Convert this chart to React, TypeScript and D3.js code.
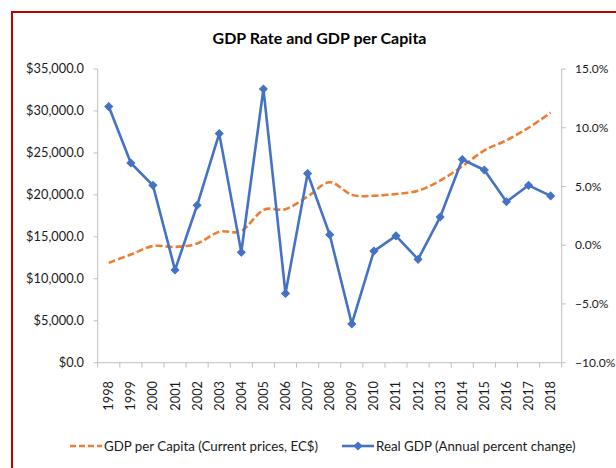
import React from "react";
import * as d3 from "d3";

const years = ["1998","1999","2000","2001","2002","2003","2004","2005","2006","2007","2008","2009","2010","2011","2012","2013","2014","2015","2016","2017","2018"];
const gdpPerCapita = [11900,12900,13900,13800,14200,15600,15700,18200,18300,19800,21500,20000,19900,20100,20500,21700,23400,25300,26500,28000,29800];
const realGdp = [11.8,7.0,5.1,-2.1,3.4,9.5,-0.6,13.3,-4.1,6.1,0.9,-6.7,-0.5,0.8,-1.2,2.4,7.3,6.4,3.7,5.1,4.2];
const leftTicks = [0,5000,10000,15000,20000,25000,30000,35000];
const rightTicks = [-10,-5,0,5,10,15];
const title = "GDP Rate and GDP per Capita";
const seriesNames = ["GDP per Capita (Current prices, EC$)", "Real GDP (Annual percent change)"];

const W = 616, H = 468;
const FONT = "Lato, 'Open Sans', sans-serif";
const ORANGE = "#ED7D31";
const BLUE = "#4472C4";
const AXIS = "#BFBFBF";
const TXT = "#1a1a1a";

export default function App() {
  const left = 97.7, right = 561.7, top = 69, bottom = 362.7;
  const x = d3.scaleBand<string>().domain(years).range([left, right]).padding(0);
  const cx = (y: string) => (x(y) as number) + x.bandwidth() / 2;
  const yL = d3.scaleLinear().domain([0, 35000]).range([bottom, top]);
  const yR = d3.scaleLinear().domain([-10, 15]).range([bottom, top]);

  const orangeLine = d3.line<number>()
    .x((_, i) => cx(years[i]))
    .y((d) => yL(d))
    .curve(d3.curveCatmullRom.alpha(0))(gdpPerCapita) || "";
  const blueLine = d3.line<number>()
    .x((_, i) => cx(years[i]))
    .y((d) => yR(d))(realGdp) || "";
  const diamond = d3.symbol().type(d3.symbolSquare).size(30)() || "";
  const fmtL = (v: number) => "$" + d3.format(",.1f")(v);
  const fmtR = (v: number) => d3.format(".1f")(v) + "%";
  const boundaries = d3.range(years.length + 1).map((i) => left + i * x.bandwidth());

  return (
    <svg width={W} height={H} style={{ position: "absolute", left: 0, top: 0, background: "#fff" }} fontFamily={FONT}>
      <rect x={0} y={0} width={W} height={H} fill="#fff" />
      <rect x={12} y={12} width={W + 50} height={H + 50} fill="none" stroke="#C00000" strokeWidth={2} />
      <text x={319.5} y={44} textAnchor="middle" fontSize={16} fontWeight="bold" fill="#000">{title}</text>

      {/* axes */}
      <line x1={left} x2={left} y1={top} y2={bottom} stroke={AXIS} strokeWidth={1} />
      <line x1={right} x2={right} y1={top} y2={bottom} stroke={AXIS} strokeWidth={1} />
      <line x1={left} x2={right} y1={bottom} y2={bottom} stroke={AXIS} strokeWidth={1} />
      {leftTicks.map((t) => (
        <g key={"l" + t}>
          <line x1={left - 4} x2={left} y1={yL(t)} y2={yL(t)} stroke={AXIS} />
          <text x={84} y={yL(t)} dy="0.35em" textAnchor="end" fontSize={12.8} fill={TXT}>{fmtL(t)}</text>
        </g>
      ))}
      {rightTicks.map((t) => (
        <g key={"r" + t}>
          <line x1={right} x2={right + 4} y1={yR(t)} y2={yR(t)} stroke={AXIS} />
          <text x={575} y={yR(t)} dy="0.35em" textAnchor="start" fontSize={12} fill={TXT}>{fmtR(t)}</text>
        </g>
      ))}
      {boundaries.map((b, i) => (
        <line key={"b" + i} x1={b} x2={b} y1={bottom} y2={bottom + 5} stroke={AXIS} />
      ))}
      {years.map((yr) => (
        <text key={yr} transform={`translate(${cx(yr)},381) rotate(-90)`} dy="0.35em" textAnchor="end" fontSize={12.8} fill={TXT}>{yr}</text>
      ))}

      {/* series */}
      <path d={orangeLine} fill="none" stroke={ORANGE} strokeWidth={2.6} strokeDasharray="7 3" />
      <path d={blueLine} fill="none" stroke={BLUE} strokeWidth={2.6} strokeLinejoin="round" />
      {realGdp.map((v, i) => (
        <path key={"m" + i} d={diamond} transform={`translate(${cx(years[i])},${yR(v)}) rotate(45)`} fill={BLUE} stroke={BLUE} strokeWidth={1} />
      ))}

      {/* legend */}
      <line x1={70} x2={102} y1={446} y2={446} stroke={ORANGE} strokeWidth={2.6} strokeDasharray="6 3" />
      <text x={104} y={446} dy="0.35em" fontSize={13.3} fill={TXT}>{seriesNames[0]}</text>
      <line x1={342} x2={374} y1={446} y2={446} stroke={BLUE} strokeWidth={2.6} />
      <path d={diamond} transform="translate(358,446) rotate(45)" fill={BLUE} stroke={BLUE} />
      <text x={376} y={446} dy="0.35em" fontSize={13.3} fill={TXT}>{seriesNames[1]}</text>
    </svg>
  );
}
